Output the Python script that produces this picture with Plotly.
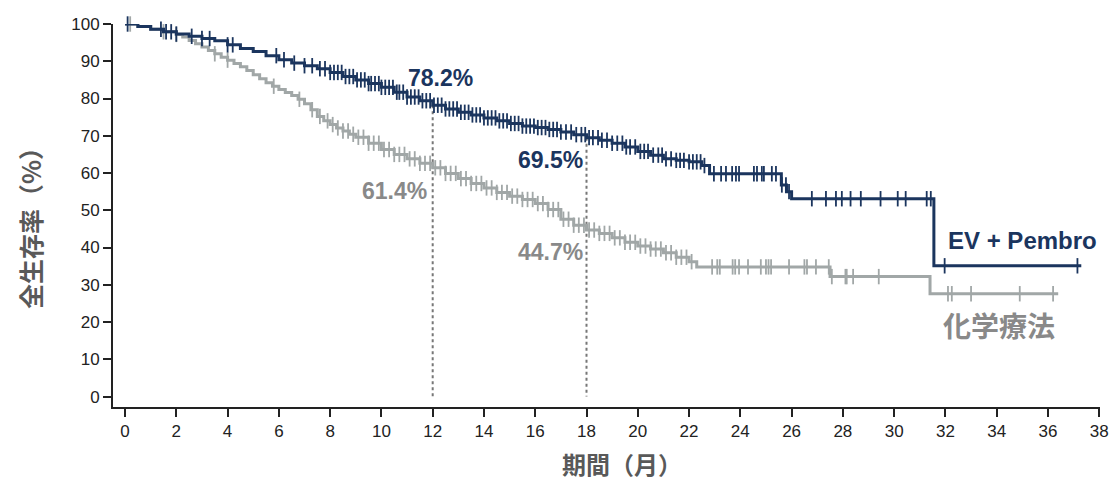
import numpy as np
import plotly.graph_objects as go

# ---------------- data ----------------
# EV + Pembro KM step points (time in months, survival %)
ev_t = [0, 0.5, 1.0, 1.5, 2.0, 2.5, 3.0, 3.5, 4.0, 4.5, 5.0, 5.5, 6.0, 6.5, 7.0, 7.5,
        8.0, 8.5, 9.0, 9.5, 10.0, 10.5, 11.0, 11.5, 12.0, 12.5, 13.0, 13.5, 14.0, 14.5,
        15.0, 15.5, 16.0, 16.5, 17.0, 17.5, 18.0, 18.5, 19.0, 19.5, 20.0, 20.5, 21.0,
        21.5, 22.0, 22.5, 22.8, 25.6, 25.8, 26.0, 31.55]
ev_s = [100, 99.3, 98.6, 97.9, 97.3, 96.7, 96.1, 95.5, 94.4, 93.4, 92.6, 91.5, 90.4, 89.5,
        88.8, 88.0, 87.0, 85.9, 85.0, 84.0, 83.0, 81.7, 80.4, 79.4, 78.2, 77.2, 76.3, 75.6,
        74.8, 74.0, 73.3, 72.6, 72.2, 71.7, 71.0, 70.3, 69.5, 68.8, 68.0, 67.0, 65.8, 64.8,
        63.8, 63.4, 63.0, 62.0, 59.8, 56.8, 55.0, 53.1, 35.1]
ev_end = 37.3
ev_cens = [0.1, 1.4, 1.6, 1.8, 2.0, 2.6, 3.0, 3.3, 4.0, 4.2, 5.9, 6.2, 6.6, 7.0, 7.3, 7.6,
           7.8, 8.0, 8.15, 8.3, 8.45, 8.6, 8.75, 8.9, 9.05, 9.2, 9.35, 9.5, 9.6, 9.75, 9.9,
           10.0, 10.15, 10.3, 10.45, 10.6, 10.7, 10.85, 11.0, 11.15, 11.3, 11.45, 11.6,
           11.75, 11.9, 12.05, 12.2, 12.35, 12.5, 12.65, 12.8, 12.95, 13.1, 13.25, 13.4,
           13.55, 13.7, 13.85, 14.0, 14.15, 14.3, 14.45, 14.6, 14.75, 14.9, 15.05, 15.2,
           15.35, 15.5, 15.65, 15.8, 15.95, 16.1, 16.25, 16.4, 16.55, 16.7, 16.85, 17.0,
           17.2, 17.4, 17.6, 17.8, 17.95, 18.1, 18.25, 18.45, 18.6, 18.8, 19.0, 19.2, 19.4,
           19.55, 19.7, 19.9, 20.1, 20.25, 20.4, 20.6, 20.8, 20.95, 21.1, 21.3, 21.5, 21.65,
           21.8, 22.0, 22.15, 22.3, 22.45, 22.6, 22.97, 23.25, 23.44, 23.68, 23.83, 23.95,
           24.53, 24.65, 24.84, 24.92, 25.23, 25.39, 25.62, 25.78, 25.9, 26.79, 27.34,
           27.73, 27.96, 28.3, 28.7, 29.47, 30.14, 30.45, 31.27, 31.43, 31.97, 37.15]

# Chemotherapy KM step points
ch_t = [0, 0.5, 1.0, 1.5, 2.0, 2.25, 2.5, 2.75, 3.0, 3.25, 3.5, 3.75, 4.0, 4.25, 4.5,
        4.75, 5.0, 5.25, 5.5, 5.75, 6.0, 6.25, 6.5, 6.75, 7.0, 7.25, 7.5, 7.75, 8.0, 8.25,
        8.5, 8.75, 9.0, 9.5, 10.0, 10.5, 11.0, 11.5, 12.0, 12.5, 13.0, 13.5, 14.0, 14.5,
        15.0, 15.5, 16.0, 16.5, 17.0, 17.5, 18.0, 18.5, 19.0, 19.5, 20.0, 20.5, 21.0,
        21.5, 22.0, 22.3, 27.5, 31.4]
ch_s = [100, 99.3, 98.6, 97.9, 97.2, 96.5, 95.6, 94.7, 93.8, 92.9, 92.0, 91.1, 90.3, 89.4,
        88.5, 87.5, 86.4, 85.3, 84.2, 83.3, 82.4, 81.6, 80.8, 79.8, 78.6, 77.0, 75.2, 74.0,
        73.0, 72.1, 71.3, 70.4, 69.6, 68.0, 66.3, 65.0, 63.8, 62.6, 61.4, 59.9, 58.5, 57.2,
        56.0, 54.8, 53.8, 52.9, 51.8, 50.2, 47.6, 46.0, 44.7, 43.8, 42.6, 41.4, 40.4, 39.6,
        38.6, 37.4, 36.2, 34.8, 32.2, 27.6]
ch_end = 36.4
ch_cens = [0.2, 1.5, 2.0, 3.5, 4.0, 5.8, 6.8, 7.3, 7.6, 7.9, 8.1, 8.3, 8.5, 8.7, 8.9, 9.1,
           9.3, 9.5, 9.7, 9.9, 10.1, 10.3, 10.5, 10.7, 10.9, 11.1, 11.3, 11.5, 11.7, 11.9,
           12.1, 12.3, 12.5, 12.7, 12.9, 13.1, 13.3, 13.5, 13.7, 13.9, 14.1, 14.3, 14.5,
           14.7, 14.9, 15.1, 15.3, 15.5, 15.7, 15.9, 16.1, 16.3, 16.5, 16.7, 16.9, 17.1,
           17.3, 17.5, 17.7, 17.9, 18.1, 18.3, 18.5, 18.7, 18.9, 19.1, 19.3, 19.5, 19.7,
           19.9, 20.1, 20.3, 20.5, 20.7, 20.9, 21.1, 21.3, 21.5, 21.7, 21.9, 22.1, 22.9,
           23.1, 23.2, 23.7, 23.8, 23.95, 24.3, 24.8, 25.0, 25.1, 25.2, 25.9, 26.5, 26.6,
           26.95, 27.45, 27.57, 28.1, 28.15, 28.4, 29.4, 32.1, 32.25, 33.0, 34.9, 36.2]

# landmark survival values
lm_t = [12, 18]
lm_ev = [78.2, 69.5]
lm_ch = [61.4, 44.7]

x_ticks = list(range(0, 39, 2))
y_ticks = list(range(0, 101, 10))

# ---------------- style ----------------
NAVY = "#1b355e"
GREY_LINE = "#a1a7a7"
GREY_TEXT = "#898989"
AX = "#222222"
SANS = "Liberation Sans, Arial, sans-serif"
CJK = "Noto Sans CJK JP, Noto Sans, sans-serif"


def step_value(times, surv, q):
    idx = np.searchsorted(np.asarray(times), np.asarray(q), side="right") - 1
    return np.asarray(surv)[idx]


fig = go.Figure()

# landmark dotted lines
for t, v in zip(lm_t, lm_ev):
    fig.add_trace(go.Scatter(x=[t, t], y=[v, 0], mode="lines",
                             line=dict(color="#777777", width=2, dash="dot"),
                             hoverinfo="skip", showlegend=False))

for times, surv, end, cens, col in [(ch_t, ch_s, ch_end, ch_cens, GREY_LINE),
                                    (ev_t, ev_s, ev_end, ev_cens, NAVY)]:
    xs = list(times) + [end]
    ys = list(surv) + [surv[-1]]
    fig.add_trace(go.Scatter(x=xs, y=ys, mode="lines", line_shape="hv",
                             line=dict(color=col, width=3), cliponaxis=False,
                             showlegend=False))
    fig.add_trace(go.Scatter(x=cens, y=step_value(times, surv, cens), mode="markers",
                             marker=dict(symbol="line-ns", size=11,
                                         line=dict(color=col, width=1.8)),
                             cliponaxis=False, showlegend=False))


def lab(x, y, text, color, size, font=SANS):
    fig.add_annotation(x=x, y=y, text=text, showarrow=False, xanchor="center",
                       yanchor="middle", font=dict(family=font, size=size, color=color))


lab(12.3, 85.5, "<b>78.2%</b>", NAVY, 23)
lab(16.6, 63.5, "<b>69.5%</b>", NAVY, 23)
lab(10.5, 55.2, "<b>61.4%</b>", GREY_TEXT, 23)
lab(16.6, 38.8, "<b>44.7%</b>", GREY_TEXT, 23)
lab(35.0, 41.8, "<b>EV + Pembro</b>", NAVY, 24)
lab(34.1, 19.3, "<b>化学療法</b>", GREY_TEXT, 28, font=CJK)

# axis titles as annotations
fig.add_annotation(xref="paper", yref="paper", x=(30 - 113) / 987, y=(407 - 222) / 383,
                   text="<b>全生存率（%）</b>", textangle=-90, showarrow=False,
                   xanchor="center", yanchor="middle",
                   font=dict(family=CJK, size=25, color="#595959"))
fig.add_annotation(xref="paper", yref="paper", x=(622 - 113) / 987, y=-(463 - 407) / 383,
                   text="<b>期間（月）</b>", showarrow=False,
                   xanchor="center", yanchor="middle",
                   font=dict(family=CJK, size=24, color="#595959"))

axis_common = dict(showgrid=False, zeroline=False, showline=True, linecolor=AX,
                   linewidth=2, ticks="outside", ticklen=8, tickwidth=2, tickcolor=AX,
                   ticklabeloverflow="allow", automargin=False,
                   tickfont=dict(family=SANS, size=17, color=AX))

fig.update_layout(
    width=1109, height=480, autosize=False,
    margin=dict(l=113, r=9, t=24, b=73),
    plot_bgcolor="white", paper_bgcolor="white",
    xaxis=dict(range=[-0.47, 38.03], tickvals=x_ticks, **axis_common),
    yaxis=dict(range=[-2.8, 100], tickvals=y_ticks, **axis_common),
    showlegend=False,
)

fig.write_html("out.html", config={"displayModeBar": False},
               post_script="document.body.style.margin='0';")
